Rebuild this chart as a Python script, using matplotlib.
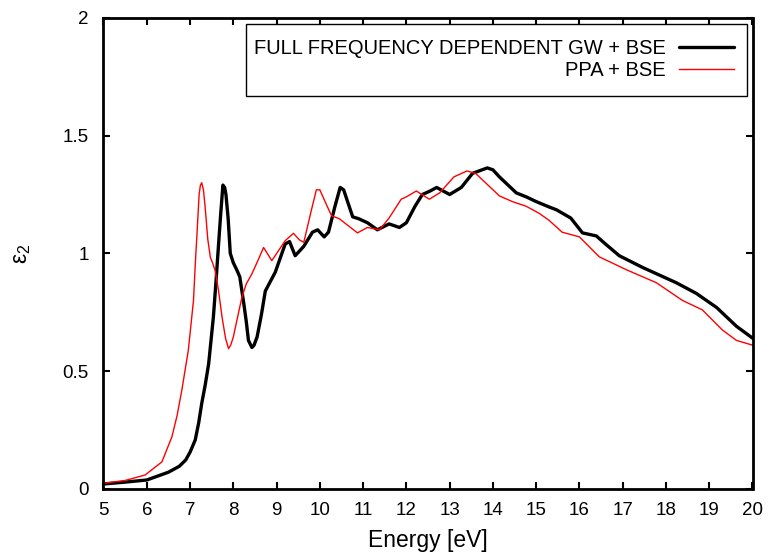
import matplotlib
matplotlib.use("Agg")
import matplotlib.pyplot as plt
from matplotlib.patches import Rectangle

energy_full = [5.0, 5.5, 6.0, 6.5, 6.75, 6.9, 7.0, 7.12, 7.2, 7.27, 7.35, 7.43, 7.54, 7.6, 7.66,
               7.71, 7.76, 7.8, 7.83, 7.88, 7.93, 8.0, 8.08, 8.15, 8.24, 8.3, 8.35, 8.43, 8.48,
               8.55, 8.65, 8.74, 8.97, 9.2, 9.3, 9.43, 9.63, 9.83, 9.95, 10.1,
               10.2, 10.35, 10.47, 10.55, 10.76, 10.9, 11.1, 11.33, 11.6, 11.84, 12.0, 12.2,
               12.37, 12.55, 12.7, 13.0, 13.27, 13.53, 13.87, 14.0, 14.15, 14.54, 14.77, 15.0,
               15.3, 15.47, 15.8, 16.07, 16.39, 16.6, 16.92, 17.46, 18.24, 18.7, 19.17, 19.4,
               19.63, 20.0]
eps2_full = [0.02, 0.028, 0.037, 0.07, 0.095, 0.122, 0.155, 0.207, 0.28, 0.362, 0.44, 0.53,
             0.73, 0.88, 1.04, 1.17, 1.29, 1.28, 1.25, 1.15, 1.0, 0.96, 0.93, 0.9, 0.79, 0.71,
             0.63, 0.60, 0.61, 0.645, 0.74, 0.84, 0.92, 1.04, 1.05, 0.99, 1.03, 1.09, 1.1, 1.07,
             1.09, 1.2, 1.28, 1.27, 1.155, 1.147, 1.13, 1.10, 1.125, 1.11, 1.13, 1.2, 1.25,
             1.265, 1.28, 1.25, 1.28, 1.34, 1.363, 1.355, 1.325, 1.257, 1.24, 1.22, 1.197,
             1.185, 1.15, 1.087, 1.074, 1.04, 0.99, 0.94, 0.875, 0.83, 0.77, 0.73, 0.69, 0.64]

energy_ppa = [5.0, 5.5, 5.96, 6.35, 6.58, 6.7, 6.81, 6.96, 7.08, 7.12, 7.16, 7.21, 7.24, 7.27,
              7.31, 7.35, 7.41, 7.47, 7.52, 7.58, 7.66, 7.74, 7.82, 7.89, 7.94, 8.0, 8.1, 8.2,
              8.3, 8.43, 8.57, 8.70, 8.89, 9.2, 9.39, 9.53, 9.63, 9.8, 9.92, 10.0,
              10.13, 10.27, 10.45, 10.87, 11.1, 11.38, 11.6, 11.88, 12.0, 12.23, 12.53, 12.77,
              13.1, 13.4, 13.6, 14.15, 14.45, 14.77, 15.07, 15.3, 15.6, 16.0, 16.46, 17.09,
              17.78, 18.38, 18.84, 19.3, 19.63, 20.0]
eps2_ppa = [0.023, 0.035, 0.058, 0.114, 0.22, 0.31, 0.418, 0.588, 0.80, 0.95, 1.08, 1.25, 1.29,
            1.30, 1.27, 1.195, 1.06, 0.983, 0.96, 0.927, 0.84, 0.729, 0.64, 0.595, 0.61, 0.644,
            0.73, 0.814, 0.87, 0.913, 0.97, 1.025, 0.969, 1.054, 1.085, 1.057, 1.047,
            1.18, 1.27, 1.27, 1.216, 1.16, 1.147, 1.087, 1.11, 1.10, 1.15, 1.23, 1.24, 1.265,
            1.23, 1.257, 1.325, 1.35, 1.34, 1.244, 1.22, 1.20, 1.17, 1.14, 1.09, 1.07, 0.985,
            0.93, 0.875, 0.80, 0.76, 0.675, 0.63, 0.61]

xticks = list(range(5, 21))
yticks = [0, 0.5, 1, 1.5, 2]
ytick_labels = ["0", "0.5", "1", "1.5", "2"]
label_full = "FULL FREQUENCY DEPENDENT GW + BSE"
label_ppa = "PPA + BSE"

plt.rcParams['font.family'] = ['Liberation Sans', 'DejaVu Sans']
plt.rcParams['mathtext.fontset'] = 'custom'
plt.rcParams['mathtext.rm'] = 'Liberation Sans'
plt.rcParams['mathtext.it'] = 'Liberation Sans:italic'

W, H = 770, 555
fig = plt.figure(figsize=(W / 100, H / 100), dpi=100)
ax = fig.add_axes([103.5 / W, 1 - 488.7 / H, (752.5 - 103.5) / W, (488.7 - 18) / H])

ax.plot(energy_full, eps2_full, color='black', lw=2.4, solid_joinstyle='round',
        solid_capstyle='round', label=label_full)
ax.plot(energy_ppa, eps2_ppa, color='red', lw=1.0, solid_joinstyle='round', label=label_ppa)

ax.set_xlim(5, 20)
ax.set_ylim(0, 2)
ax.set_xticks(xticks)
ax.set_yticks(yticks)
ax.set_yticklabels(ytick_labels)
ax.tick_params(direction='in', length=5, width=1.5, top=True, right=True, labelsize=13.5)
ax.tick_params(axis='x', pad=9.5)
ax.tick_params(axis='y', pad=10.5)
for s in ax.spines.values():
    s.set_linewidth(2.0)

ax.set_xlabel("Energy [eV]", fontsize=16.5, labelpad=7)
ax.set_ylabel("ε$_2$", fontsize=16.5)
ax.yaxis.set_label_coords((33 - 103.5) / 649, 0.5)

leg = ax.legend(loc='center right', bbox_to_anchor=(734 / W, 1 - 59.5 / H),
                bbox_transform=fig.transFigure, markerfirst=False, fontsize=14.5,
                frameon=False, handlelength=2.74, handletextpad=0.65, borderpad=0,
                borderaxespad=0, labelspacing=0.11)
frame = Rectangle((246 / W, 1 - 96 / H), 501 / W, 72 / H, transform=fig.transFigure,
                  fill=False, edgecolor='black', linewidth=1.0, zorder=5)
fig.add_artist(frame)

fig.savefig("out.png", dpi=100)
